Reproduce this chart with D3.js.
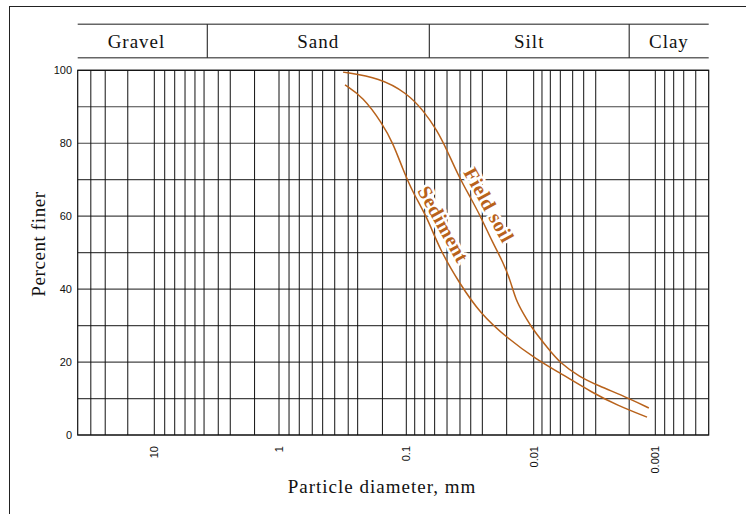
<!DOCTYPE html>
<html>
<head>
<meta charset="utf-8">
<script src="https://cdn.jsdelivr.net/npm/d3@7"></script>
<style>
  body { margin: 0; background: white; }
</style>
</head>
<body>
<svg id="svgContainer" width="746" height="514"></svg>
<script>
const svg = d3.select("#svgContainer");

// ---- data ----
const decadeTicks = [10, 1, 0.1, 0.01, 0.001];
const decadeLabels = ["10", "1", "0.1", "0.01", "0.001"];

// vertical grid lines (particle diameter, mm)
const gridDiameters = [
    32.2, 24.7, 16.3, 10, 8.25, 6.86, 5.67, 4.72, 3.99, 3.07, 2.46, 1.57,
    1, 0.834, 0.693, 0.548, 0.454, 0.365, 0.286, 0.241, 0.154,
    0.1, 0.0859, 0.0717, 0.0599, 0.0479, 0.0379, 0.0312, 0.0253, 0.0163,
    0.01, 0.00855, 0.0073, 0.00604, 0.00478, 0.00388, 0.00309, 0.00164,
    0.001, 0.000837, 0.000706, 0.000584, 0.000465
];

const percentGrid = [0, 10, 20, 30, 40, 50, 60, 70, 80, 90, 100];
const percentLabels = [0, 20, 40, 60, 80, 100];

const zoneNames = ["Gravel", "Sand", "Silt", "Clay"];
const zoneBounds = [41, 3.76, 0.066, 0.00164, 0.000364];

const fieldSoilDiam = [0.314, 0.161, 0.0987, 0.0739, 0.0574, 0.0479, 0.0393, 0.0316, 0.0264, 0.0209, 0.0174,
    0.0153, 0.0138, 0.0121, 0.0101, 0.00777, 0.00608, 0.00416, 0.00302, 0.00161, 0.00113];
const fieldSoilPct = [99.5, 97.9, 93.7, 89.1, 83.6, 78.1, 71.3, 65.3, 60.3, 52.6, 47.4,
    42.5, 37.0, 33.4, 28.8, 24.1, 19.7, 15.9, 13.7, 9.9, 7.4];

const sedimentDiam = [0.303, 0.219, 0.155, 0.127, 0.106, 0.0886, 0.0688, 0.0544, 0.0379, 0.0264,
    0.0162, 0.00939, 0.00608, 0.00325, 0.00207, 0.00117];
const sedimentPct = [96.0, 92.7, 85.5, 80.0, 72.7, 66.4, 59.8, 50.7, 41.4, 33.4,
    26.6, 20.6, 17.0, 11.5, 8.2, 4.9];

const curveLabels = [
    { name: "Field soil", d: 0.0224, p: 63.1 },
    { name: "Sediment", d: 0.051, p: 57.8 }
];

const curveColor = "#b8621b";

// ---- scales ----
// log scale, reversed (coarse on the left); decades are not quite equal on the original
const x = d3.scaleLog()
    .domain([41, 10, 1, 0.1, 0.01, 0.001, 0.000364])
    .range([77.7, 154.3, 279, 406.3, 533.7, 655.3, 708.7]);

const y = d3.scaleLinear()
    .domain([0, 100])
    .range([435, 70.3]);

// outer frame (runs off the right and bottom edge)
svg.append("rect")
    .attr("x", 9.5)
    .attr("y", 6.5)
    .attr("width", 800)
    .attr("height", 600)
    .attr("fill", "none")
    .attr("stroke", "#222")
    .attr("stroke-width", 1);

// ---- soil class header ----
const zones = zoneNames.map((n, i) => ({ name: n, x0: x(zoneBounds[i]), x1: x(zoneBounds[i + 1]) }));

[24.3, 57.7].forEach(yy => {
    svg.append("line")
        .attr("x1", x(zoneBounds[0]))
        .attr("x2", x(zoneBounds[zoneBounds.length - 1]))
        .attr("y1", yy)
        .attr("y2", yy)
        .attr("stroke", "#666")
        .attr("stroke-width", 1.6);
});

svg.selectAll("line.zone-div")
    .data(zoneBounds.slice(1, -1))
    .enter()
    .append("line")
    .attr("class", "zone-div")
    .attr("x1", d => x(d))
    .attr("x2", d => x(d))
    .attr("y1", 24.3)
    .attr("y2", 57.7)
    .attr("stroke", "#111")
    .attr("stroke-width", 1);

svg.selectAll("text.zone")
    .data(zones)
    .enter()
    .append("text")
    .attr("class", "zone")
    .attr("x", (d, i) => (d.x0 + d.x1) / 2 - (i === 0 ? 6 : 0))   // "Gravel" sits a little left of centre
    .attr("y", 48)
    .attr("text-anchor", "middle")
    .attr("font-family", "Liberation Serif, Times New Roman, serif")
    .attr("font-size", "19px")
    .attr("letter-spacing", "1px")
    .attr("fill", "#111")
    .text(d => d.name);

// ---- grid ----
svg.selectAll("line.hgrid")
    .data(percentGrid)
    .enter()
    .append("line")
    .attr("class", "hgrid")
    .attr("x1", x.range()[0])
    .attr("x2", x.range()[x.range().length - 1])
    .attr("y1", d => y(d))
    .attr("y2", d => y(d))
    .attr("stroke", "#444")
    .attr("stroke-width", 1.2);

svg.selectAll("line.vgrid")
    .data(gridDiameters)
    .enter()
    .append("line")
    .attr("class", "vgrid")
    .attr("x1", d => x(d))
    .attr("x2", d => x(d))
    .attr("y1", y(0))
    .attr("y2", y(100))
    .attr("stroke", "#111")
    .attr("stroke-width", 1);

// plot frame
svg.append("rect")
    .attr("x", x.range()[0])
    .attr("y", y(100))
    .attr("width", x.range()[x.range().length - 1] - x.range()[0])
    .attr("height", y(0) - y(100))
    .attr("fill", "none")
    .attr("stroke", "#111")
    .attr("stroke-width", 1.2);

// ---- axes labels ----
svg.selectAll("text.ylab")
    .data(percentLabels)
    .enter()
    .append("text")
    .attr("class", "ylab")
    .attr("x", 72)
    .attr("y", d => y(d))
    .attr("dy", "0.35em")
    .attr("text-anchor", "end")
    .attr("font-family", "Liberation Sans, Arial, sans-serif")
    .attr("font-size", "11px")
    .attr("fill", "#111")
    .text(d => d);

svg.selectAll("text.xlab")
    .data(decadeTicks)
    .enter()
    .append("text")
    .attr("class", "xlab")
    .attr("transform", d => `translate(${x(d)},446) rotate(-90)`)
    .attr("dy", "0.35em")
    .attr("text-anchor", "end")
    .attr("font-family", "Liberation Sans, Arial, sans-serif")
    .attr("font-size", "11px")
    .attr("fill", "#111")
    .text((d, i) => decadeLabels[i]);

// axis titles
svg.append("text")
    .attr("x", 382)
    .attr("y", 493)
    .attr("text-anchor", "middle")
    .attr("font-family", "Liberation Serif, Times New Roman, serif")
    .attr("font-size", "19px")
    .attr("letter-spacing", "1px")
    .attr("fill", "#111")
    .text("Particle diameter, mm");

svg.append("text")
    .attr("transform", "translate(45,244) rotate(-90)")
    .attr("text-anchor", "middle")
    .attr("font-family", "Liberation Serif, Times New Roman, serif")
    .attr("font-size", "19px")
    .attr("letter-spacing", "0.6px")
    .attr("fill", "#111")
    .text("Percent finer");

// ---- grading curves ----
const line = d3.line()
    .x(d => x(d[0]))
    .y(d => y(d[1]))
    .curve(d3.curveBasis);

[[fieldSoilDiam, fieldSoilPct], [sedimentDiam, sedimentPct]].forEach(([ds, ps]) => {
    svg.append("path")
        .datum(ds.map((d, i) => [d, ps[i]]))
        .attr("d", line)
        .attr("fill", "none")
        .attr("stroke", curveColor)
        .attr("stroke-width", 1.5);
});

// curve labels with white halo
svg.selectAll("text.curve-label")
    .data(curveLabels)
    .enter()
    .append("text")
    .attr("class", "curve-label")
    .attr("transform", d => `translate(${x(d.d)},${y(d.p)}) rotate(61)`)
    .attr("text-anchor", "middle")
    .attr("dy", "0.35em")
    .attr("font-family", "Liberation Serif, Times New Roman, serif")
    .attr("font-weight", "bold")
    .attr("font-size", "20px")
    .attr("letter-spacing", "0.5px")
    .attr("fill", curveColor)
    .attr("stroke", "white")
    .attr("stroke-width", 5)
    .attr("stroke-linejoin", "round")
    .attr("paint-order", "stroke")
    .text(d => d.name);
</script>
</body>
</html>
